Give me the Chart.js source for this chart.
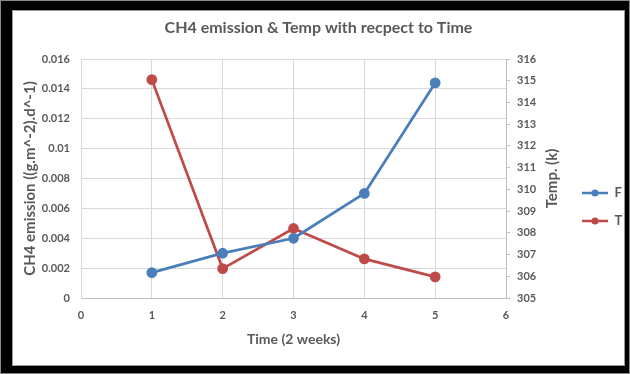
<!DOCTYPE html>
<html>
<head>
<meta charset="utf-8">
<script src="https://cdn.jsdelivr.net/npm/chart.js@4.4.1/dist/chart.umd.min.js"></script>
<style>
  html, body { margin: 0; padding: 0; background: #000; }
  #wrap { position: relative; width: 630px; height: 374px; }
</style>
</head>
<body>
<div id="wrap"><canvas id="c" width="630" height="374"></canvas></div>
<script>
// ---- data ----
const chartTitle = 'CH4 emission & Temp with recpect to Time';
const timePoints = [1, 2, 3, 4, 5];
const fValues = [0.0017, 0.003, 0.004, 0.007, 0.0144];
const tValues = [315.05, 306.35, 308.2, 306.8, 305.97];
const seriesNames = ['F', 'T'];
const leftTickLabels = ['0', '0.002', '0.004', '0.006', '0.008', '0.01', '0.012', '0.014', '0.016'];
const xTitle = 'Time (2 weeks)';
const leftTitle = 'CH4 emission ((g.m^-2).d^-1)';
const rightTitle = 'Temp. (k)';

const BLUE = '#4a7ebb';
const RED = '#be4b48';
const TXT = '#595959';
const FONT = 'Lato, "DejaVu Sans", sans-serif';
const LEG_PAD = 15;

function legendIcon(color) {
  const c = document.createElement('canvas');
  c.width = 26; c.height = 10;
  const g = c.getContext('2d');
  g.strokeStyle = color; g.lineWidth = 2.5;
  g.beginPath(); g.moveTo(0, 5); g.lineTo(26, 5); g.stroke();
  g.fillStyle = color;
  g.beginPath(); g.arc(13, 5, 3.6, 0, Math.PI * 2); g.fill();
  return c;
}
const icons = [legendIcon(BLUE), legendIcon(RED)];

const framePlugin = {
  id: 'frame',
  beforeDraw(chart) {
    const ctx = chart.ctx;
    ctx.save();
    ctx.fillStyle = '#000';
    ctx.fillRect(0, 0, 630, 374);
    ctx.strokeStyle = '#888';
    ctx.lineWidth = 1;
    ctx.strokeRect(0.5, 0.5, 629, 373);
    ctx.fillStyle = '#fff';
    ctx.fillRect(12, 10, 613, 356);
    ctx.strokeStyle = '#9a9a9a';
    ctx.strokeRect(12.5, 10.5, 612, 355);
    ctx.restore();
  },
  beforeLayout(chart) {
    const lg = chart.legend;
    if (lg && !lg._patched) {
      const f = lg.fit;
      lg.fit = function () { f.call(this); if (!this.isHorizontal()) this.width = 58; };
      lg._patched = true;
    }
  },
  afterLayout(chart) {
    const lg = chart.legend;
    if (lg) { lg.top += 23; lg.bottom += 23; }
  },
  afterDraw(chart) {
    const ctx = chart.ctx;
    const a = chart.chartArea;
    ctx.save();
    ctx.fillStyle = TXT;
    ctx.font = 'bold 15px ' + FONT;
    ctx.textAlign = 'center';
    ctx.textBaseline = 'middle';
    ctx.translate(a.right + 46, (a.top + a.bottom) / 2);
    ctx.rotate(-Math.PI / 2);
    ctx.fillText(rightTitle, 0, 0);
    ctx.restore();
  }
};

new Chart(document.getElementById('c'), {
  type: 'line',
  data: {
    datasets: [
      {
        label: seriesNames[0],
        data: timePoints.map((x, i) => ({ x: x, y: fValues[i] })),
        yAxisID: 'y',
        borderColor: BLUE, backgroundColor: BLUE,
        pointBackgroundColor: BLUE, pointBorderColor: BLUE,
        borderWidth: 2.75, pointRadius: 4, pointHoverRadius: 4,
        tension: 0, borderJoinStyle: 'round', borderCapStyle: 'round'
      },
      {
        label: seriesNames[1],
        data: timePoints.map((x, i) => ({ x: x, y: tValues[i] })),
        yAxisID: 'y1',
        borderColor: RED, backgroundColor: RED,
        pointBackgroundColor: RED, pointBorderColor: RED,
        borderWidth: 2.75, pointRadius: 4, pointHoverRadius: 4,
        tension: 0, borderJoinStyle: 'round', borderCapStyle: 'round'
      }
    ]
  },
  options: {
    responsive: false,
    animation: false,
    layout: { padding: { left: 12, right: 5, top: 10, bottom: 16 } },
    plugins: {
      tooltip: { enabled: false },
      title: {
        display: true,
        text: chartTitle,
        color: TXT,
        font: { family: FONT, size: 16, weight: 'bold' },
        padding: { top: 8, bottom: 21.8 }
      },
      legend: {
        display: true,
        position: 'right',
        align: 'center',
        labels: {
          usePointStyle: true,
          pointStyleWidth: 26,
          boxHeight: 10,
          padding: LEG_PAD,
          color: TXT,
          font: { family: FONT, size: 13, weight: 'bold' },
          generateLabels(chart) {
            return chart.data.datasets.map((ds, i) => ({
              text: ds.label,
              pointStyle: icons[i],
              fontColor: TXT,
              hidden: false,
              datasetIndex: i,
              lineWidth: 0,
              strokeStyle: 'transparent',
              fillStyle: 'transparent'
            }));
          }
        }
      }
    },
    scales: {
      x: {
        type: 'linear',
        position: 'bottom',
        min: 0, max: 6,
        ticks: { stepSize: 1, color: TXT, padding: 11, font: { family: FONT, size: 11, weight: 'bold' } },
        grid: { color: '#d9d9d9', drawTicks: false },
        border: { color: '#bfbfbf' },
        title: { display: true, text: xTitle, color: TXT, font: { family: FONT, size: 14, weight: 'bold' }, padding: { top: 4, bottom: 10 } },
        afterFit(s) { s.height = 60; }
      },
      y: {
        type: 'linear',
        position: 'left',
        min: 0, max: 0.016,
        ticks: {
          stepSize: 0.002, color: TXT, padding: 11,
          font: { family: FONT, size: 11, weight: 'bold' },
          callback: (v, i) => leftTickLabels[i]
        },
        grid: { color: '#d9d9d9', drawTicks: false },
        border: { color: '#d9d9d9' },
        title: { display: true, text: leftTitle, color: TXT, font: { family: FONT, size: 15, weight: 'bold' }, padding: { top: 9, bottom: 4 } },
        afterFit(s) { s.width = 69; }
      },
      y1: {
        type: 'linear',
        position: 'right',
        min: 305, max: 316,
        ticks: { stepSize: 1, color: TXT, padding: 7, font: { family: FONT, size: 11, weight: 'bold' } },
        grid: { drawOnChartArea: false, drawTicks: true, tickLength: 4, color: '#bfbfbf' },
        border: { color: '#bfbfbf' },
        afterFit(s) { s.width = 61; }
      }
    }
  },
  plugins: [framePlugin]
});
</script>
</body>
</html>
